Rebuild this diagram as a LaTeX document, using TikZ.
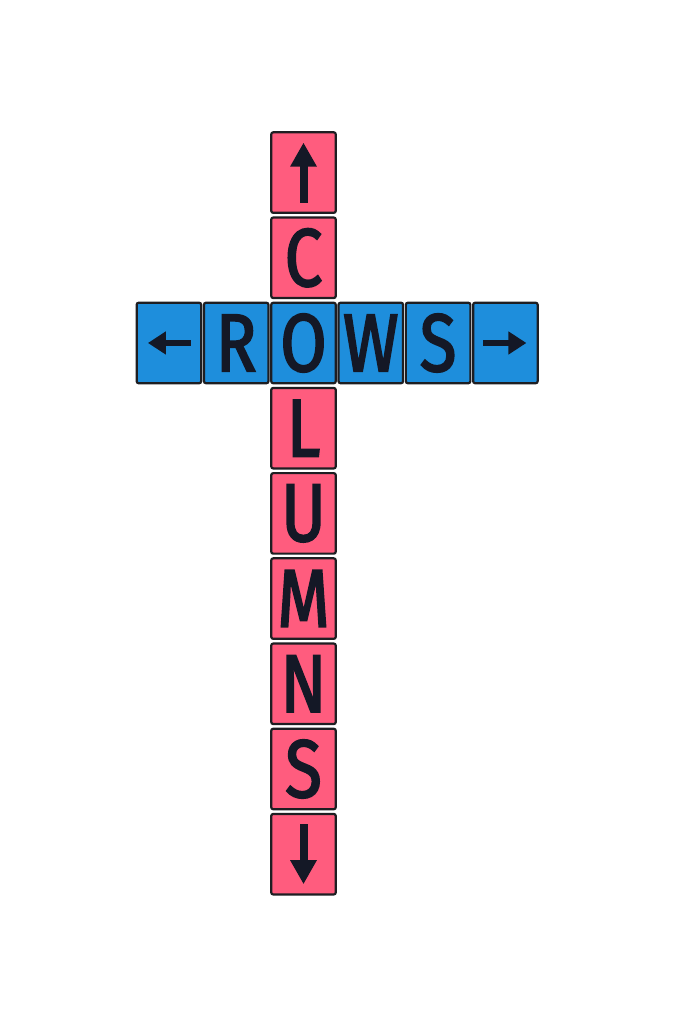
\documentclass[tikz,border=0pt]{standalone}
\usepackage{fontspec}
\newfontfamily\tilefont[FakeStretch=0.82,FakeBold=2.2]{Fira Sans}
\usetikzlibrary{positioning,arrows.meta}
\definecolor{TilePink}{RGB}{255,92,126}
\definecolor{TileBlue}{RGB}{30,142,220}
\definecolor{TileEdge}{RGB}{30,30,34}
\definecolor{Ink}{RGB}{20,24,38}

\begin{document}
\begin{tikzpicture}[
x=1pt, y=1pt,
tile/.style={draw=TileEdge, line width=2.2pt, rounded corners=2pt, minimum width=64.5pt, minimum height=80.5pt, inner sep=0pt, font=\tilefont\fontsize{82}{82}\selectfont, text=Ink},
coltile/.style={tile, fill=TilePink},
rowtile/.style={tile, fill=TileBlue},
sign/.style={-{Triangle[length=18pt,width=22pt]}, line width=5.5pt, Ink},
bigsign/.style={-{Triangle[length=24pt,width=25pt]}, line width=8pt, Ink}
]
\useasboundingbox[fill=white] (0,0) rectangle (683,1024);

% row of blue tiles
\node[rowtile] (rowO) at (303.5,681) {O};
\node[rowtile, left=0.6pt of rowO] (rowR) {R};
\node[rowtile, left=0.6pt of rowR] (rowLeft) {};
\node[rowtile, right=0.6pt of rowO] (rowW) {W};
\node[rowtile, right=0.6pt of rowW] (rowS) {S};
\node[rowtile, right=0.6pt of rowS] (rowRight) {};

% column of pink tiles
\node[coltile, above=2.5pt of rowO] (colC) {C};
\node[coltile, above=2.5pt of colC] (colUp) {};
\node[coltile, below=2.5pt of rowO] (colL) {L};
\node[coltile, below=2.5pt of colL] (colU) {U};
\node[coltile, below=2.5pt of colU] (colM) {M};
\node[coltile, below=2.5pt of colM] (colN) {N};
\node[coltile, below=2.5pt of colN] (colS) {S};
\node[coltile, below=2.5pt of colS] (colDown) {};

% arrow signs
\draw[sign] ([xshift=22pt]rowLeft.center) -- ([xshift=-21pt]rowLeft.center);
\draw[sign] ([xshift=-22pt]rowRight.center) -- ([xshift=21pt]rowRight.center);
\draw[bigsign] ([yshift=-30pt]colUp.center) -- ([yshift=30pt]colUp.center);
\draw[bigsign] ([yshift=30pt]colDown.center) -- ([yshift=-30pt]colDown.center);
\end{tikzpicture}
\end{document}
